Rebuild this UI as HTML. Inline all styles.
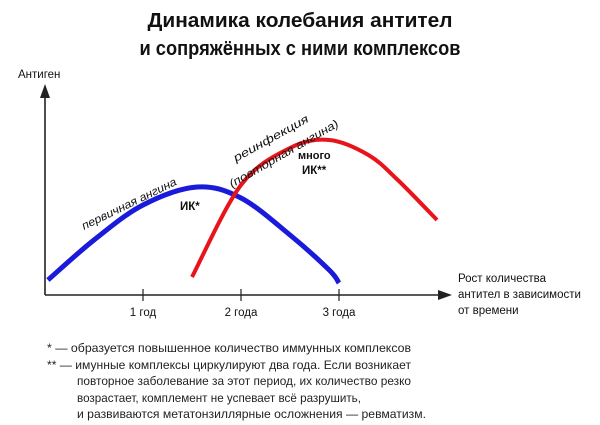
<!DOCTYPE html>
<html><head><meta charset="utf-8"><style>
html,body{margin:0;padding:0;background:#fff;}
svg{display:block;font-family:"Liberation Sans","Noto Sans CJK SC",sans-serif;}
</style></head><body>
<svg width="600" height="425" viewBox="0 0 600 425">
<g font-weight="bold" font-size="20" fill="#111" text-anchor="middle">
<text x="300" y="27" textLength="305" lengthAdjust="spacingAndGlyphs">Динамика колебания антител</text>
<text x="300" y="55" textLength="321" lengthAdjust="spacingAndGlyphs">и сопряжённых с ними комплексов</text>
</g>
<g id="axes"></g>
<g id="series"></g>
<g fill="#111">
<text x="18" y="78" font-size="11.5">Антиген</text>
<g font-size="11.5">
<text x="458" y="282">Рост количества</text>
<text x="458" y="298">антител в зависимости</text>
<text x="458" y="314">от времени</text>
</g>
<text x="0" y="0" font-size="11.5" font-style="italic" transform="translate(84,230) rotate(-26)" textLength="104" lengthAdjust="spacingAndGlyphs">первичная ангина</text>
<text x="0" y="0" font-size="11.5" font-style="italic" transform="translate(236,162) rotate(-29)" textLength="84" lengthAdjust="spacingAndGlyphs">реинфекция</text>
<text x="0" y="0" font-size="11.5" font-style="italic" transform="translate(232,188) rotate(-30)" textLength="124" lengthAdjust="spacingAndGlyphs">(повторная ангина)</text>
<text x="180" y="210" font-size="11.5" font-weight="bold">ИК*</text>
<text x="298" y="159" font-size="11" font-weight="bold">много</text>
<text x="302" y="174" font-size="11.5" font-weight="bold">ИК**</text>
</g>
<g font-size="12" fill="#222">
<text x="47" y="352" textLength="364" lengthAdjust="spacingAndGlyphs">* — образуется повышенное количество иммунных комплексов</text>
<text x="47" y="369" textLength="364" lengthAdjust="spacingAndGlyphs">** — имунные комплексы циркулируют два года. Если возникает</text>
<text x="77" y="385" textLength="334" lengthAdjust="spacingAndGlyphs">повторное заболевание за этот период, их количество резко</text>
<text x="77" y="402" textLength="284" lengthAdjust="spacingAndGlyphs">возрастает, комплемент не успевает всё разрушить,</text>
<text x="77" y="418" textLength="349" lengthAdjust="spacingAndGlyphs">и развиваются метатонзиллярные осложнения — ревматизм.</text>
</g>
</svg>
<script>
const tickYears = [1, 2, 3];
const tickLabels = ["1 год", "2 года", "3 года"];
const blueT = [0.03, 0.5, 1.0, 1.55, 2.0, 2.5, 2.9, 3.0];
const blueV = [15, 55, 90, 108, 97, 60, 25, 12];
const redT = [1.5, 2.0, 2.5, 2.9, 3.3, 3.6, 4.0];
const redV = [18, 110, 147, 155, 140, 115, 75];

const NS = "http://www.w3.org/2000/svg";
const X0 = 45, Y0 = 295, PX_PER_YEAR = 98;
const xs = t => X0 + t * PX_PER_YEAR;
const ys = v => Y0 - v;

function mk(tag, attrs, parent) {
  const e = document.createElementNS(NS, tag);
  for (const k in attrs) e.setAttribute(k, attrs[k]);
  parent.appendChild(e);
  return e;
}
const axes = document.getElementById("axes");
const yAxis = mk("line", {x1: X0, y1: Y0, x2: X0, y2: 96, stroke: "#222", "stroke-width": 1.6}, axes);


const yArrow = mk("polygon", {points: `${X0-5},98 ${X0+5},98 ${X0},84`, fill: "#222"}, axes);


const xAxis = mk("line", {x1: X0, y1: Y0, x2: 440, y2: Y0, stroke: "#222", "stroke-width": 1.6}, axes);


const xArrow = mk("polygon", {points: `438,${Y0-5} 438,${Y0+5} 452,${Y0}`, fill: "#222"}, axes);


tickYears.forEach((t, i) => {
  const tk = mk("line", {x1: xs(t), y1: Y0 - 6, x2: xs(t), y2: Y0 + 6, stroke: "#222", "stroke-width": 1.2}, axes);
  
  
  const lb = mk("text", {x: xs(t), y: Y0 + 21, "text-anchor": "middle", "font-size": 11.5, fill: "#111"}, axes);
  lb.textContent = tickLabels[i];
  
  
});

function pathFrom(T, V) {
  const p = T.map((t, i) => [xs(t), ys(V[i])]);
  let d = `M${p[0][0]},${p[0][1]}`;
  for (let i = 0; i < p.length - 1; i++) {
    const a = p[Math.max(i - 1, 0)], b = p[i], c = p[i + 1], e = p[Math.min(i + 2, p.length - 1)];
    const c1 = [b[0] + (c[0] - a[0]) / 6, b[1] + (c[1] - a[1]) / 6];
    const c2 = [c[0] - (e[0] - b[0]) / 6, c[1] - (e[1] - b[1]) / 6];
    d += ` C${c1[0]},${c1[1]} ${c2[0]},${c2[1]} ${c[0]},${c[1]}`;
  }
  return d;
}
const series = document.getElementById("series");
const blue = mk("path", {d: pathFrom(blueT, blueV), fill: "none", stroke: "#1a1adb", "stroke-width": 5, "stroke-linecap": "butt"}, series);


const red = mk("path", {d: pathFrom(redT, redV), fill: "none", stroke: "#e8141c", "stroke-width": 4, "stroke-linecap": "butt"}, series);


</script>
</body></html>
